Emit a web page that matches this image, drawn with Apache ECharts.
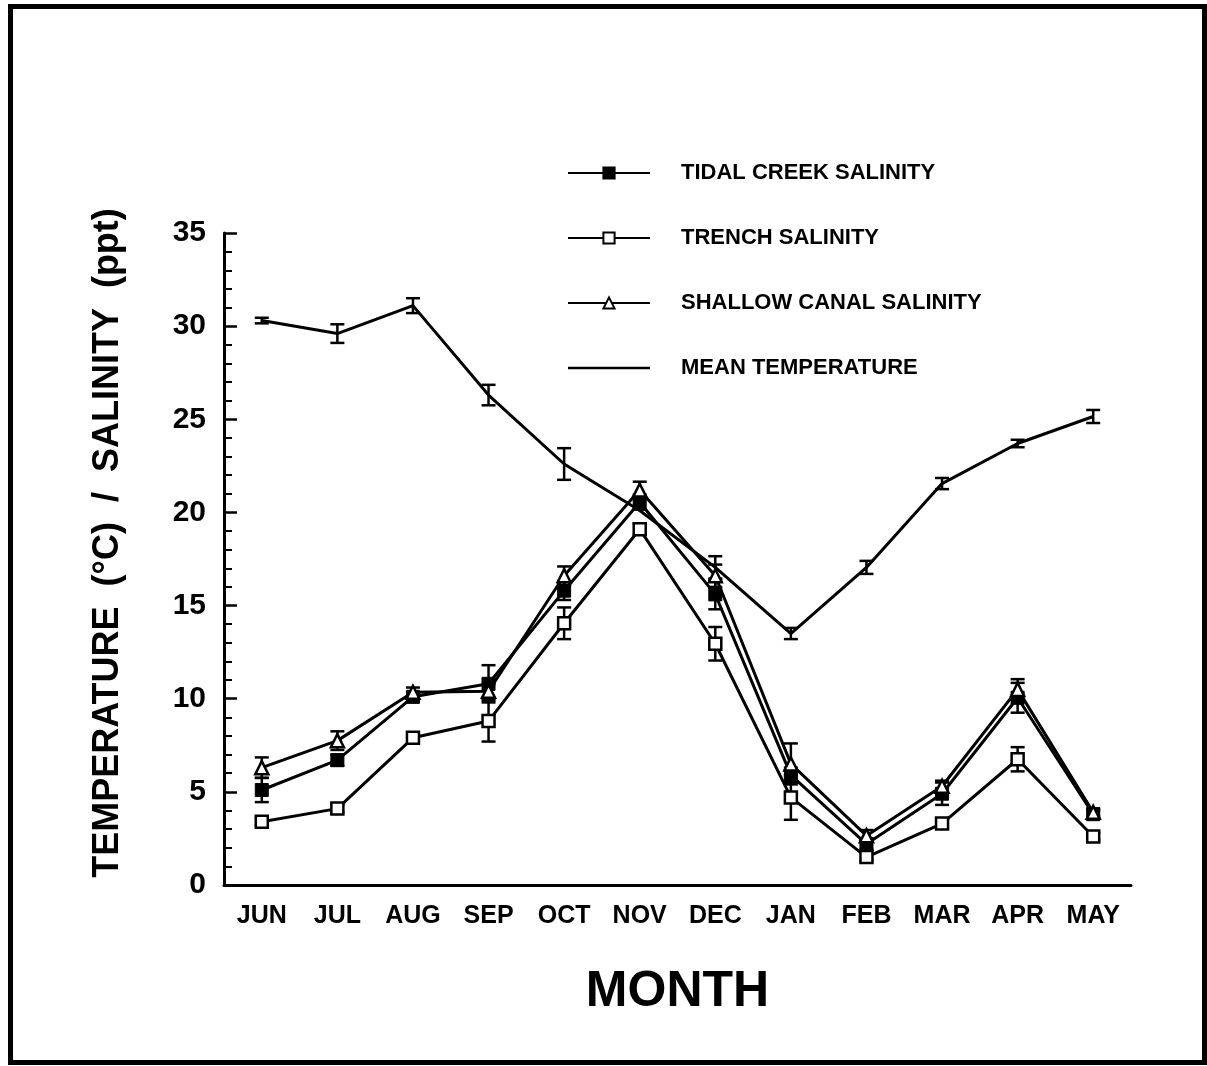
<!DOCTYPE html>
<html>
<head>
<meta charset="utf-8">
<script src="https://cdn.jsdelivr.net/npm/echarts@6/dist/echarts.min.js"></script>
<style>
  html, body { margin: 0; padding: 0; background: #fff; }
  #chart { width: 1207px; height: 1066px; }
</style>
</head>
<body>
<div id="chart"></div>
<script>
const months = ['JUN', 'JUL', 'AUG', 'SEP', 'OCT', 'NOV', 'DEC', 'JAN', 'FEB', 'MAR', 'APR', 'MAY']

const tidalCreek = [5.1, 6.7, 10.1, 10.8, 15.8, 20.55, 15.6, 5.9, 2.2, 4.9, 10.05, 3.8]
const tidalCreekErr = [0.65, 0.3, 0.25, 1.0, 0.5, 0.4, 0.8, 0.4, 0.3, 0.6, 0.8, 0.2]

const trench = [3.4, 4.1, 7.9, 8.8, 14.05, 19.1, 12.95, 4.7, 1.5, 3.3, 6.75, 2.6]
const trenchErr = [0.2, 0.2, 0.25, 1.1, 0.85, 0.3, 0.9, 1.2, 0.2, 0.25, 0.65, 0.2]

const shallowCanal = [6.3, 7.75, 10.35, 10.4, 16.6, 21.2, 16.6, 6.5, 2.65, 5.3, 10.5, 3.9]
const shallowCanalErr = [0.55, 0.5, 0.25, 0.4, 0.5, 0.45, 0.6, 1.1, 0.3, 0.3, 0.55, 0.2]

const meanTemp = [30.3, 29.6, 31.1, 26.3, 22.6, 20.1, 17.05, 13.5, 17.05, 21.55, 23.7, 25.15]
const meanTempErr = [0.15, 0.5, 0.4, 0.55, 0.85, 0, 0.6, 0.3, 0.35, 0.3, 0.2, 0.35]

const FONT = '"Liberation Sans", Arial, Helvetica, sans-serif'
const INK = '#000'

// [index, low, high] rows for the error bar series
function errRows (values, errs) {
  return values.map((v, i) => [i, v - errs[i], v + errs[i]]).filter(r => r[2] > r[1])
}

function renderErrorBar (params, api) {
  const top = api.coord([api.value(0), api.value(2)])
  const bottom = api.coord([api.value(0), api.value(1)])
  const w = 7
  const style = { stroke: INK, lineWidth: 2.5 }
  return {
    type: 'group',
    children: [
      { type: 'line', shape: { x1: top[0], y1: top[1], x2: bottom[0], y2: bottom[1] }, style },
      { type: 'line', shape: { x1: top[0] - w, y1: top[1], x2: top[0] + w, y2: top[1] }, style },
      { type: 'line', shape: { x1: bottom[0] - w, y1: bottom[1], x2: bottom[0] + w, y2: bottom[1] }, style }
    ]
  }
}

function errSeries (values, errs) {
  return {
    type: 'custom',
    renderItem: renderErrorBar,
    encode: { x: 0, y: [1, 2] },
    data: errRows(values, errs),
    silent: true,
    z: 3
  }
}

const lineBase = {
  type: 'line',
  lineStyle: { color: INK, width: 3 },
  symbolSize: 12,
  showAllSymbol: true,
  animation: false,
  z: 4
}

// plain line legend icon (no marker); the zero-length subpaths pin the box height
const plainLineIcon = 'path://M0,0L0,0ZM0,14L0,14ZM0,5.8L82,5.8L82,8.3L0,8.3Z'

const chart = echarts.init(document.getElementById('chart'))

chart.setOption({
  animation: false,
  backgroundColor: '#fff',
  grid: { left: 224, right: 76, top: 233, bottom: 181 },
  legend: {
    orient: 'vertical',
    left: 562,
    top: 157,
    itemWidth: 82,
    itemHeight: 14,
    itemGap: 43,
    data: [
      'TIDAL CREEK SALINITY',
      'TRENCH SALINITY',
      'SHALLOW CANAL SALINITY',
      { name: 'MEAN TEMPERATURE', icon: plainLineIcon }
    ],
    textStyle: { color: INK, fontFamily: FONT, fontWeight: 'bold', fontSize: 22, padding: [0, 0, 0, 26] },
    selectedMode: false
  },
  xAxis: {
    type: 'category',
    data: months,
    boundaryGap: true,
    name: 'MONTH',
    nameLocation: 'middle',
    nameGap: 82,
    nameTextStyle: { color: INK, fontFamily: FONT, fontWeight: 'bold', fontSize: 50 },
    axisLine: { lineStyle: { color: INK, width: 3 } },
    axisTick: { alignWithLabel: true, inside: true, length: 11, lineStyle: { color: INK, width: 2.5 } },
    axisLabel: { color: INK, fontFamily: FONT, fontWeight: 'bold', fontSize: 25, margin: 19, interval: 0 },
    splitLine: { show: false }
  },
  yAxis: {
    type: 'value',
    min: 0,
    max: 35,
    interval: 5,
    axisLine: { show: true, lineStyle: { color: INK, width: 3 } },
    axisTick: { show: true, inside: true, length: 13, lineStyle: { color: INK, width: 2.5 } },
    minorTick: { show: true, splitNumber: 5, length: 8, lineStyle: { color: INK, width: 2 } },
    axisLabel: { color: INK, fontFamily: FONT, fontWeight: 'bold', fontSize: 30, margin: 18 },
    splitLine: { show: false }
  },
  graphic: [
    {
      type: 'rect',
      shape: { x: 10.5, y: 6.5, width: 1194, height: 1056 },
      style: { fill: 'none', stroke: INK, lineWidth: 5 },
      silent: true
    },
    {
      type: 'text',
      x: 108,
      y: 543,
      rotation: Math.PI / 2,
      style: {
        text: 'TEMPERATURE  (°C)  /  SALINITY  (ppt)',
        fill: INK,
        font: 'bold 36px ' + FONT,
        align: 'center',
        verticalAlign: 'middle'
      },
      silent: true
    }
  ],
  series: [
    Object.assign({}, lineBase, {
      name: 'TIDAL CREEK SALINITY',
      data: tidalCreek,
      symbol: 'rect',
      symbolSize: 13,
      itemStyle: { color: INK, borderColor: INK, borderWidth: 1 }
    }),
    Object.assign({}, lineBase, {
      name: 'TRENCH SALINITY',
      data: trench,
      symbol: 'rect',
      itemStyle: { color: '#fff', borderColor: INK, borderWidth: 2.5 }
    }),
    Object.assign({}, lineBase, {
      name: 'SHALLOW CANAL SALINITY',
      data: shallowCanal,
      symbol: 'triangle',
      symbolSize: 13,
      itemStyle: { color: '#fff', borderColor: INK, borderWidth: 2.5 }
    }),
    Object.assign({}, lineBase, {
      name: 'MEAN TEMPERATURE',
      data: meanTemp,
      symbol: 'none',
      itemStyle: { color: INK }
    }),
    errSeries(tidalCreek, tidalCreekErr),
    errSeries(trench, trenchErr),
    errSeries(shallowCanal, shallowCanalErr),
    errSeries(meanTemp, meanTempErr)
  ]
})
</script>
</body>
</html>
